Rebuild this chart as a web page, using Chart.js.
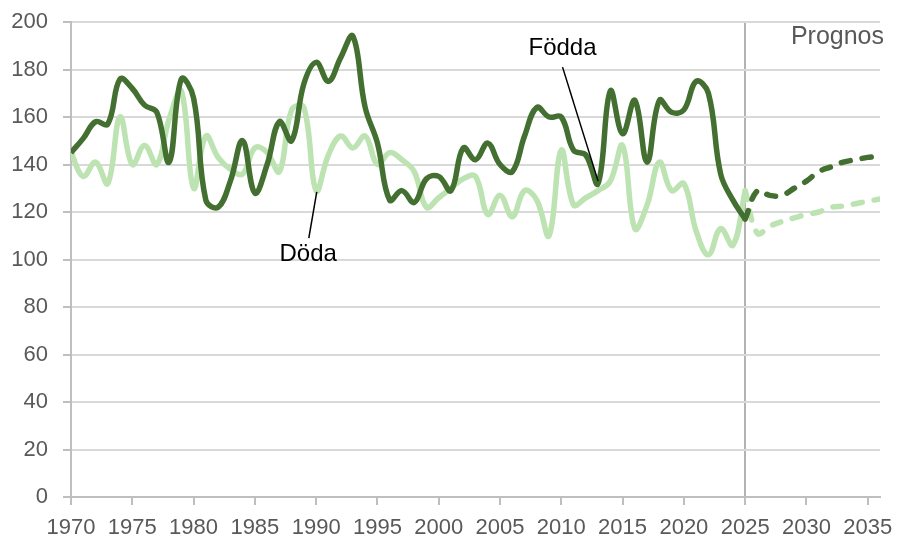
<!DOCTYPE html>
<html>
<head>
<meta charset="utf-8">
<script src="https://cdn.jsdelivr.net/npm/chart.js@4"></script>
<style>
  body { margin: 0; background: #fff; }
  #wrap { width: 897px; height: 540px; }
</style>
</head>
<body>
<div id="wrap"><canvas id="popChart"></canvas></div>
<script>
// Utfall 1970-2025
const years = [];
for (let y = 1970; y <= 2025; y++) years.push(y);
const fodda = [145, 151, 158, 157, 176, 172, 165, 162, 141, 176,
  168, 125, 122, 133, 150, 128, 140, 158, 150, 174,
  183, 175, 185, 194, 164, 149, 125, 129, 124, 134,
  135, 129, 147, 142, 149, 140, 137, 152, 164, 160,
  160, 146, 144, 132, 171, 153, 167, 141, 167, 162,
  163, 175, 170, 136, 125, 117];
const doda = [145, 135, 141, 132, 160, 140, 148, 140, 159, 171,
  130, 152, 143, 138, 136, 147, 145, 137, 163, 164,
  129, 144, 152, 147, 152, 140, 145, 142, 137, 122,
  126, 130, 134, 135, 119, 127, 118, 129, 125, 110,
  146, 123, 126, 129, 133, 148, 113, 123, 141, 129,
  132, 112, 102, 113, 106, 129];

// Prognos 2025-2036
const progYears = [2025, 2026, 2027, 2028, 2029, 2030, 2031, 2032, 2033, 2034, 2035, 2036];
const progFodda = [117, 129, 127, 127, 130, 133, 137, 139, 141, 142, 143, 143.5];
const progDoda = [129, 111, 114, 116, 117.5, 119, 120, 122, 122.5, 123.5, 124.5, 125.5];

const xTicks = [1970, 1975, 1980, 1985, 1990, 1995, 2000, 2005, 2010, 2015, 2020, 2025, 2030, 2035];
const yTicks = [0, 20, 40, 60, 80, 100, 120, 140, 160, 180, 200];
const prognosYear = 2025;

const darkGreen = '#436f31';
const lightGreen = '#bce3b1';
const axisGrey = '#bfbfbf';
const textGrey = '#595959';

const toPoints = (xs, ys) => xs.map((x, i) => ({ x: x, y: ys[i] }));

// label texts with a pointer line, given in data units
const callouts = [
  { text: 'Födda', tx: 2010.1, ty: 189, x1: 2010.1, y1: 181, x2: 2013.0, y2: 133 },
  { text: 'Döda', tx: 1989.35, ty: 102, x1: 1990.05, y1: 128.5, x2: 1989.4, y2: 109 }
];

const calloutPlugin = {
  id: 'callouts',
  afterDatasetsDraw(chart) {
    const c = chart.ctx;
    const xs = chart.scales.x, ys = chart.scales.y;
    c.save();
    callouts.forEach(a => {
      c.strokeStyle = '#000';
      c.lineWidth = 1.5;
      c.beginPath();
      c.moveTo(xs.getPixelForValue(a.x1), ys.getPixelForValue(a.y1));
      c.lineTo(xs.getPixelForValue(a.x2), ys.getPixelForValue(a.y2));
      c.stroke();
      c.fillStyle = '#000';
      c.font = '24px "Liberation Sans", Arial, sans-serif';
      c.textAlign = 'center';
      c.textBaseline = 'middle';
      c.fillText(a.text, xs.getPixelForValue(a.tx), ys.getPixelForValue(a.ty));
    });
    // Prognos text top right
    c.fillStyle = textGrey;
    c.font = '25px "Liberation Sans", Arial, sans-serif';
    c.textAlign = 'right';
    c.textBaseline = 'middle';
    c.fillText('Prognos', chart.chartArea.right + 4, ys.getPixelForValue(193.5));
    c.restore();
  }
};

const ctx = document.getElementById('popChart').getContext('2d');
new Chart(ctx, {
  type: 'line',
  data: {
    datasets: [
      {
        label: 'Födda',
        data: toPoints(years, fodda),
        borderColor: darkGreen,
        borderWidth: 5.5,
        pointRadius: 0,
        tension: 0.4
      },
      {
        label: 'Födda prognos',
        data: toPoints(progYears, progFodda),
        borderColor: darkGreen,
        borderWidth: 5.5,
        borderDash: [9, 12],
        borderCapStyle: 'round',
        pointRadius: 0,
        tension: 0.4
      },
      {
        label: 'Döda',
        data: toPoints(years, doda),
        borderColor: lightGreen,
        borderWidth: 5.5,
        pointRadius: 0,
        tension: 0.4
      },
      {
        label: 'Döda prognos',
        data: toPoints(progYears, progDoda),
        borderColor: lightGreen,
        borderWidth: 5.5,
        borderDash: [9, 12],
        borderCapStyle: 'round',
        pointRadius: 0,
        tension: 0.4
      }
    ]
  },
  options: {
    responsive: true,
    maintainAspectRatio: false,
    animation: false,
    layout: { padding: { top: 22, right: 17, left: 0, bottom: 0 } },
    plugins: {
      legend: { display: false },
      tooltip: { enabled: false }
    },
    scales: {
      x: {
        type: 'linear',
        min: 1970,
        max: 2036,
        afterFit: s => { s.height = 43; s.paddingLeft = 0; s.paddingRight = 0; },
        afterBuildTicks: s => { s.ticks = xTicks.map(v => ({ value: v })); },
        ticks: {
          color: textGrey,
          font: { family: '"Liberation Sans", Arial, sans-serif', size: 22 },
          padding: 10,
          maxRotation: 0,
          autoSkip: false,
          callback: v => String(v)
        },
        grid: {
          color: c => (c.tick && c.tick.value === prognosYear) ? '#b3b3b3' : 'rgba(0,0,0,0)',
          tickColor: axisGrey,
          lineWidth: 2,
          tickLength: 8
        },
        border: { color: axisGrey, width: 2 }
      },
      y: {
        min: 0,
        max: 200,
        afterFit: s => { s.width = 71; s.paddingTop = 0; s.paddingBottom = 0; },
        afterBuildTicks: s => { s.ticks = yTicks.map(v => ({ value: v })); },
        ticks: {
          color: textGrey,
          font: { family: '"Liberation Sans", Arial, sans-serif', size: 22 },
          padding: 15
        },
        grid: {
          color: '#d9d9d9',
          tickColor: axisGrey,
          lineWidth: 2,
          tickLength: 8
        },
        border: { color: axisGrey, width: 2 }
      }
    }
  },
  plugins: [calloutPlugin]
});
</script>
</body>
</html>
